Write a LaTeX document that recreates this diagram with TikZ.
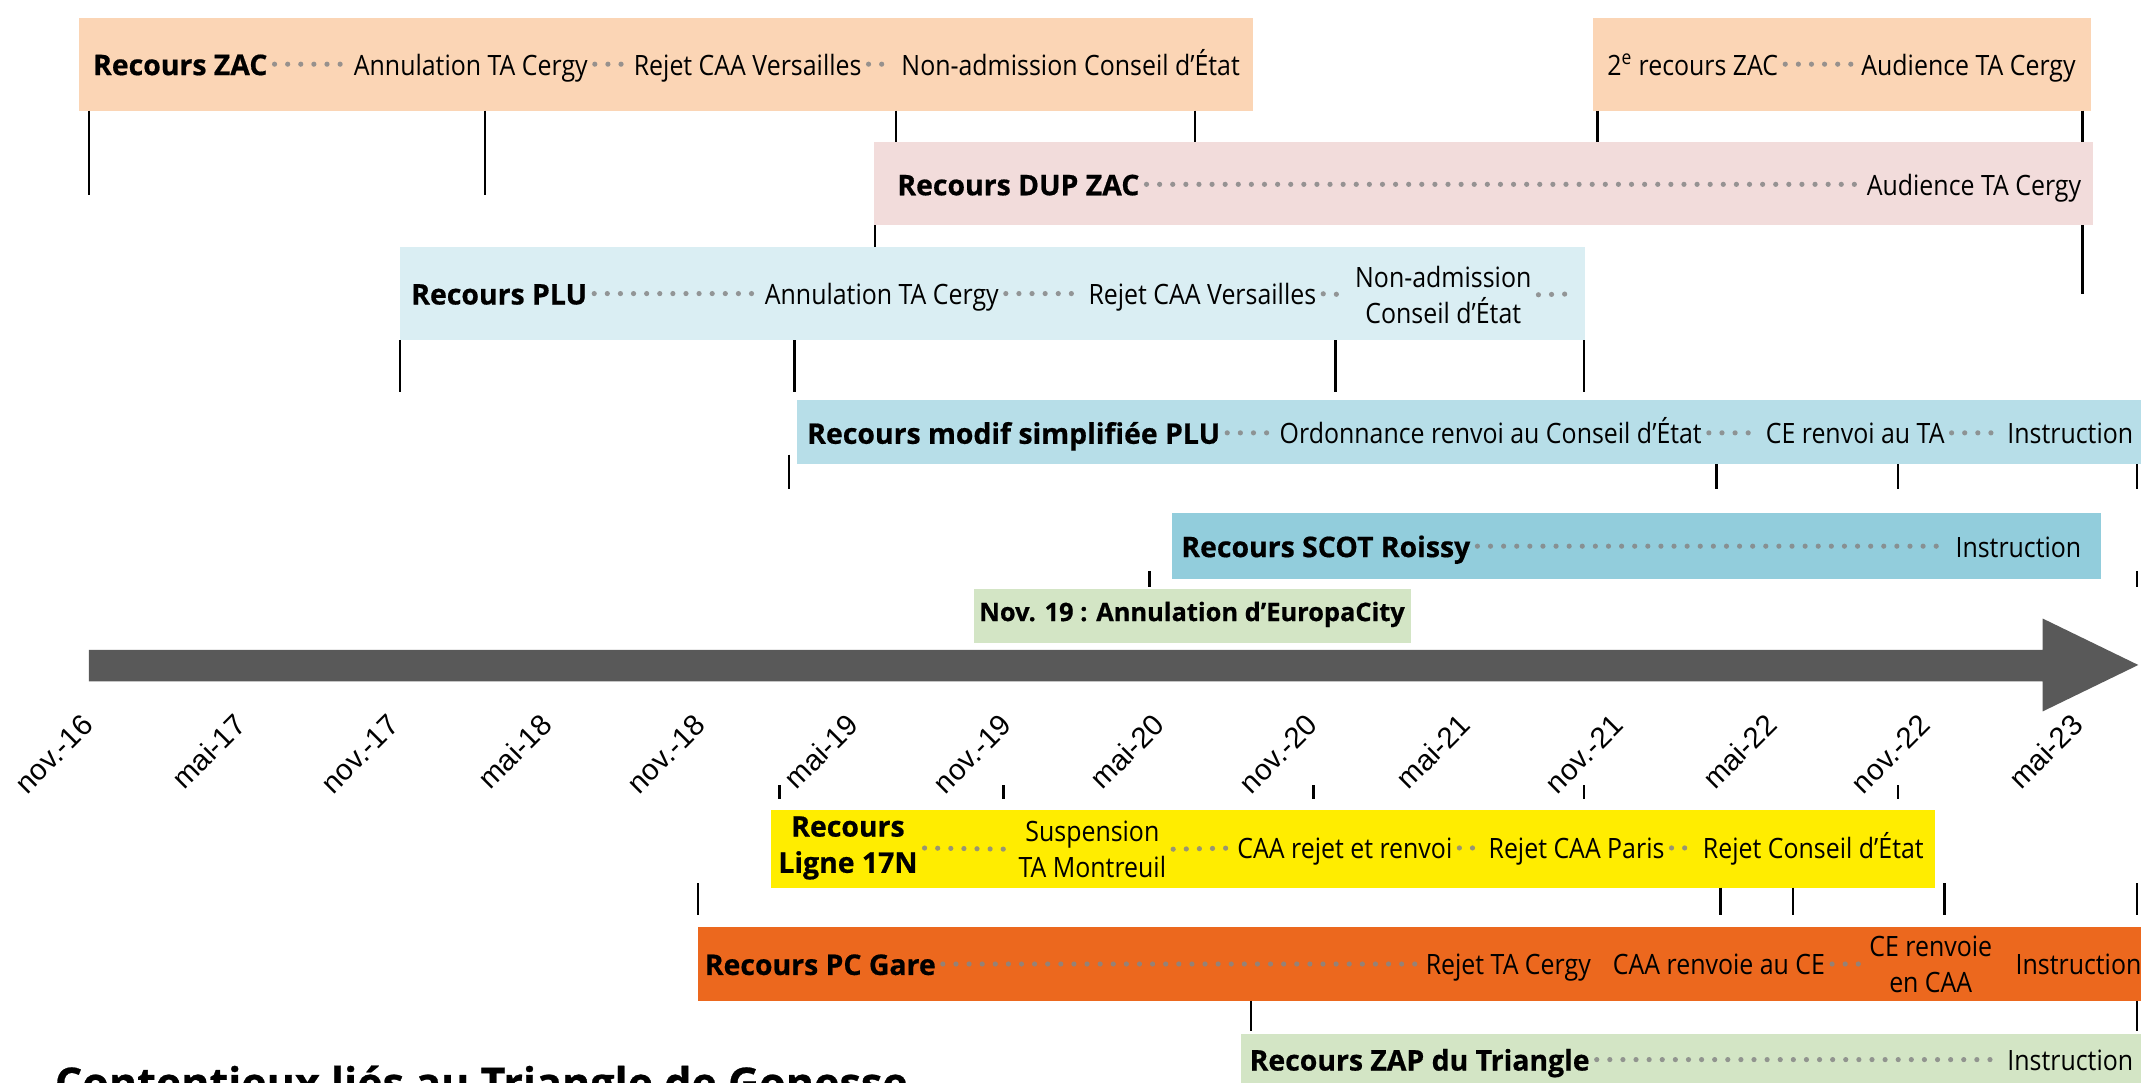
\documentclass[tikz,border=0pt]{standalone}
\usepackage{fontspec}
\setmainfont{Open Sans}
\newfontfamily\regf{Open Sans}[FakeStretch=0.89]
\newfontfamily\boldf{Open Sans}[BoldFeatures={FakeBold=0.6}]
\newfontfamily\datef{Liberation Sans}
\usetikzlibrary{calc}
\definecolor{peach}{HTML}{FBD5B5}
\definecolor{pinkbar}{HTML}{F2DCDB}
\definecolor{lblue}{HTML}{DAEEF3}
\definecolor{mblue}{HTML}{B7DEE8}
\definecolor{dblue}{HTML}{92CDDC}
\definecolor{lgreen}{HTML}{D3E5C5}
\definecolor{ybar}{HTML}{FFED00}
\definecolor{obar}{HTML}{EC681E}
\definecolor{axisgray}{HTML}{595959}
\definecolor{dotgray}{HTML}{868686}
\newcommand\rfnt{\regf\fontsize{20.5pt}{26.5pt}\selectfont}
\newcommand\bfnt{\boldf\bfseries\fontsize{20.8pt}{26.5pt}\selectfont}
\begin{document}
\begin{tikzpicture}[x=1pt,y=-1pt,
  bar/.style={inner sep=0pt, outer sep=0pt, draw=none, anchor=north west},
  lbl/.style={inner sep=0pt, anchor=base west, text height=16pt, text depth=0pt, font=\rfnt},
  blbl/.style={lbl, font=\bfnt},
  ml/.style={inner sep=0pt, align=center, font=\rfnt},
  bml/.style={inner sep=0pt, align=center, font=\bfnt},
  dots/.style={draw=dotgray, opacity=0.85, line width=3.8pt, line cap=round, dash pattern=on 0pt off 9.6pt, shorten >=5pt, shorten <=5pt},
  tick/.style={draw=black, line width=1.8pt},
  datelbl/.style={inner sep=0pt, rotate=45, anchor=base east, font=\datef\fontsize{21.5pt}{21.5pt}\selectfont}
]
\clip (0,0) rectangle (1568,793);
\fill[white] (0,0) rectangle (1568,793);

% ---------- bars ----------
\node[bar, fill=peach, minimum width=860pt, minimum height=68pt] (zacbox) at (58,13) {};
\node[bar, fill=peach, minimum width=364pt, minimum height=68pt] (zac2box) at (1167,13) {};
\node[bar, fill=pinkbar, minimum width=893pt, minimum height=61pt] (dupbox) at (640,104) {};
\node[bar, fill=lblue, minimum width=868pt, minimum height=68pt] (plubox) at (293,181) {};
\node[bar, fill=mblue, minimum width=990pt, minimum height=47pt] (modbox) at (584,293) {};
\node[bar, fill=dblue, minimum width=681pt, minimum height=48pt] (scotbox) at (858,376) {};
\node[bar, fill=lgreen, minimum width=320pt, minimum height=40pt] (novbox) at (713,431) {};
\node[bar, fill=ybar, minimum width=852pt, minimum height=57pt] (l17box) at (565,593) {};
\node[bar, fill=obar, minimum width=1063pt, minimum height=54pt] (pcbox) at (511,679) {};
\node[bar, fill=lgreen, minimum width=665pt, minimum height=50pt] (zapbox) at (909,757) {};

% ---------- ticks ----------
\foreach \x/\a/\b in {65/81/143, 355/81/143, 656/81/104, 875/81/104, 1170/81/104, 1525/81/104,
  641/165/181, 1525/165/215,
  293/249/287, 582/249/287, 978/249/287, 1160/249/287,
  578/333/358, 1257/340/358, 1390/340/358, 1565/340/358,
  842/418/430, 1565/418/430,
  571/575/585, 735/575/585, 962/575/585, 1160/575/585, 1390/575/585,
  511/647/670, 1260/650/670, 1313/650/670, 1424/647/670, 1565/647/670,
  916/733/755, 1565/733/755}
  \draw[tick] (\x,\a) -- (\x,\b);

% ---------- axis ----------
\fill[axisgray] (65,476) -- (1496,476) -- (1496,453) -- (1566,487) -- (1496,521) -- (1496,499) -- (65,499) -- cycle;
\foreach \t [count=\i from 0] in {nov.-16, mai-17, nov.-17, mai-18, nov.-18, mai-19, nov.-19, mai-20, nov.-20, mai-21, nov.-21, mai-22, nov.-22, mai-23}
  \node[datelbl] (d\i) at ({69.6+112.1*\i},532.5) {\t};

% ---------- row 1 : Recours ZAC ----------
\node[blbl] (zac1) at (68,55) {Recours ZAC};
\node[lbl] (zac2) at (259,55) {Annulation TA Cergy};
\node[lbl] (zac3) at (464,55) {Rejet CAA Versailles};
\node[lbl] (zac4) at (660,55) {Non-admission Conseil d’État};
\node[lbl] (zac5) at (1177,55) {2\textsuperscript{e} recours ZAC};
\node[lbl] (zac6) at (1363,55) {Audience TA Cergy};
\draw[dots] (zac1.east) -- (zac2.west);
\draw[dots] (zac2.east) -- (zac3.west);
\draw[dots] (zac3.east) -- (zac4.west);
\draw[dots] (zac5.east) -- (zac6.west);

% ---------- row 2 : DUP ZAC ----------
\node[blbl] (dup1) at (657,143) {Recours DUP ZAC};
\node[lbl] (dup2) at (1367,143) {Audience TA Cergy};
\draw[dots] (dup1.east) -- (dup2.west);

% ---------- row 3 : PLU ----------
\node[blbl] (plu1) at (301,223) {Recours PLU};
\node[lbl] (plu2) at (560,223) {Annulation TA Cergy};
\node[lbl] (plu3) at (797,223) {Rejet CAA Versailles};
\node[ml] (plu4) at (1057,216) {Non-admission\\Conseil d’État};
\coordinate (plu5) at (1160,215);
\draw[dots] (plu1.east) -- (plu2.west);
\draw[dots] (plu2.east) -- (plu3.west);
\draw[dots] (plu3.east) -- (plu4.west);
\draw[dots] (plu4.east) -- (plu5);

% ---------- row 4 : modif simplifiee PLU ----------
\node[blbl] (mod1) at (591,325) {Recours modif simplifiée PLU};
\node[lbl] (mod2) at (937,325) {Ordonnance renvoi au Conseil d’État};
\node[lbl] (mod3) at (1293,325) {CE renvoi au TA};
\node[lbl] (mod4) at (1470,325) {Instruction};
\draw[dots] (mod1.east) -- (mod2.west);
\draw[dots] (mod2.east) -- (mod3.west);
\draw[dots] (mod3.east) -- (mod4.west);

% ---------- row 5 : SCOT ----------
\node[blbl] (scot1) at (865,408) {Recours SCOT Roissy};
\node[lbl] (scot2) at (1432,408) {Instruction};
\draw[dots] (scot1.east) -- (scot2.west);

\node[inner sep=0pt, font=\boldf\bfseries\fontsize{18.6pt}{20pt}\selectfont] (nov) at (873,450) {Nov. 19 : Annulation d’EuropaCity};

% ---------- row 6 : Ligne 17N ----------
\node[bml] (l17a) at (621,621) {Recours\\Ligne 17N};
\node[ml] (l17b) at (800,622) {Suspension\\TA Montreuil};
\node[lbl] (l17c) at (906,629) {CAA rejet et renvoi};
\node[lbl] (l17d) at (1090,629) {Rejet CAA Paris};
\node[lbl] (l17e) at (1247,629) {Rejet Conseil d’État};
\draw[dots] (l17a.east) -- (l17b.west);
\draw[dots] (l17b.east) -- (l17c.west);
\draw[dots] (l17c.east) -- (l17d.west);
\draw[dots] (l17d.east) -- (l17e.west);

% ---------- row 7 : PC Gare ----------
\node[blbl] (pc1) at (516,714) {Recours PC Gare};
\node[lbl] (pc2) at (1044,714) {Rejet TA Cergy};
\node[lbl] (pc3) at (1181,714) {CAA renvoie au CE};
\node[ml] (pc4) at (1414,706) {CE renvoie\\en CAA};
\node[lbl] (pc5) at (1476,714) {Instruction};
\draw[dots] (pc1.east) -- (pc2.west);
\draw[dots] (pc3.east) -- (pc4.west);

% ---------- row 8 : ZAP ----------
\node[blbl] (zap1) at (915,784) {Recours ZAP du Triangle};
\node[lbl] (zap2) at (1470,784) {Instruction};
\draw[dots] (zap1.east) -- (zap2.west);

% ---------- title ----------
\node[inner sep=0pt, anchor=base west, font=\boldf\bfseries\fontsize{31.5pt}{36pt}\selectfont] (title) at (40,804.5) {Contentieux liés au Triangle de Gonesse};
\end{tikzpicture}
\end{document}
